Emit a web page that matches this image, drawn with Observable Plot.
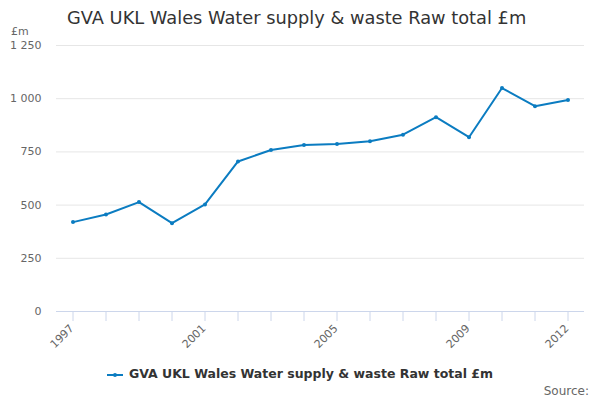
<!DOCTYPE html>
<html>
<head>
<meta charset="utf-8">
<script src="https://cdn.jsdelivr.net/npm/d3@7"></script>
<script src="https://cdn.jsdelivr.net/npm/@observablehq/plot@0.6"></script>
<style>
  html, body { margin: 0; padding: 0; background: #fff; }
  #wrap { position: relative; width: 600px; height: 400px; font-family: "DejaVu Sans", sans-serif; overflow: hidden; }
  #wrap > svg { position: absolute; left: 0; top: 0; }
  .abs { position: absolute; white-space: nowrap; }
  #title { left: 67px; top: 7px; font-size: 17.8px; color: #333; }
  #unit { left: 11px; top: 25px; font-size: 11px; color: #666; }
  #legend { left: 0; width: 600px; top: 366px; text-align: center; font-size: 12.5px; font-weight: bold; color: #333; }
  #legend svg { vertical-align: middle; margin-right: 6px; }
  #source { right: 11px; top: 384px; font-size: 12px; color: #666; }
</style>
</head>
<body>
<div id="wrap">
  <div id="title" class="abs">GVA UKL Wales Water supply &amp; waste Raw total £m</div>
  <div id="unit" class="abs">£m</div>
  <div id="legend" class="abs"><svg width="16" height="8"><line x1="0" y1="4" x2="16" y2="4" stroke="#0b7cc1" stroke-width="2"/><circle cx="8" cy="4" r="2" fill="#0b7cc1"/></svg>GVA UKL Wales Water supply &amp; waste Raw total £m</div>
  <div id="source" class="abs">Source:</div>
</div>
<script>
const years = [1997, 1998, 1999, 2000, 2001, 2002, 2003, 2004, 2005, 2006, 2007, 2008, 2009, 2010, 2011, 2012];
const values = [420, 456, 514, 415, 503, 705, 759, 782, 787, 800, 831, 913, 819, 1050, 965, 994];
const yTicks = [0, 250, 500, 750, 1000, 1250];
const xLabelYears = [1997, 2001, 2005, 2009, 2012];

const data = years.map((y, i) => ({year: y, value: values[i]}));
const color = "#0b7cc1";
const fmt = d => d3.format(",")(d).replace(/,/g, " ");

const chart = Plot.plot({
  width: 600,
  height: 400,
  marginTop: 45,
  marginBottom: 89,
  marginLeft: 56,
  marginRight: 16,
  style: {fontFamily: "DejaVu Sans, sans-serif", background: "transparent"},
  x: {domain: [1996.5, 2012.5], axis: null},
  y: {domain: [0, 1250], axis: null},
  marks: [
    Plot.gridY(yTicks.filter(d => d > 0), {stroke: "#e6e6e6", strokeOpacity: 1, strokeWidth: 1}),
    Plot.axisY(yTicks, {tickSize: 0, tickPadding: 15, tickFormat: fmt, fontSize: 11, fill: "#666", label: null}),
    Plot.axisX(years, {tickSize: 10, tickFormat: () => "", stroke: "#ccd6eb", strokeOpacity: 1, label: null}),
    Plot.ruleY([0], {stroke: "#ccd6eb", strokeWidth: 1}),
    Plot.text(xLabelYears, {x: d => d, y: 0, text: d => String(d), rotate: -45, textAnchor: "end", dx: -1, dy: 15, fontSize: 11, fill: "#666"}),
    Plot.line(data, {x: "year", y: "value", stroke: color, strokeWidth: 2}),
    Plot.dot(data, {x: "year", y: "value", r: 2, fill: color, stroke: null})
  ]
});
document.getElementById("wrap").prepend(chart);
</script>
</body>
</html>
